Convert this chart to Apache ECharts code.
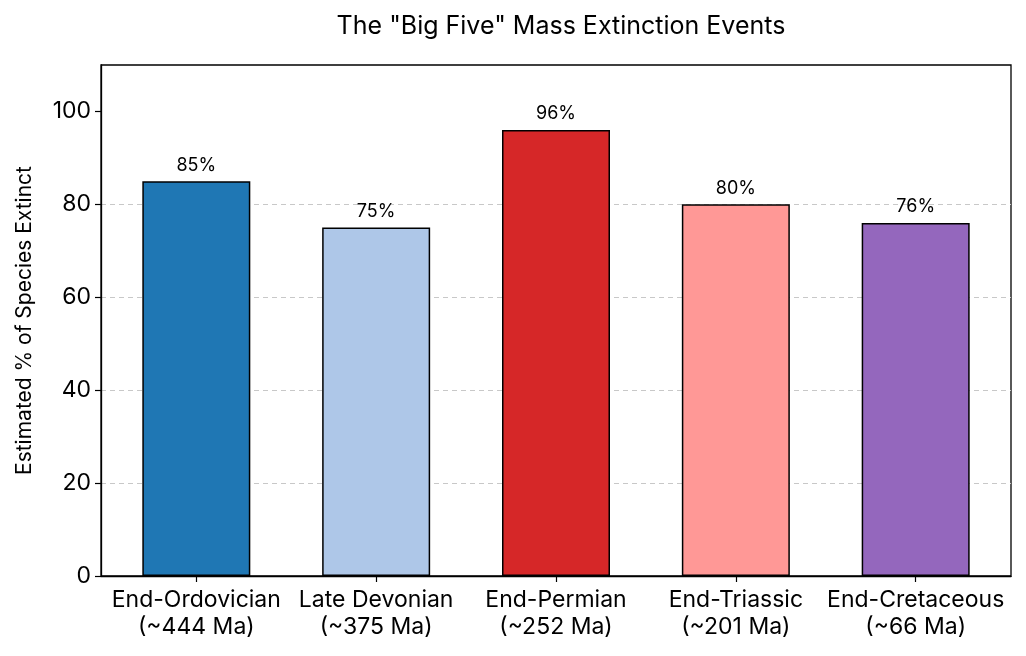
<!DOCTYPE html>
<html>
<head>
<meta charset="utf-8">
<script src="https://cdn.jsdelivr.net/npm/echarts@6/dist/echarts.min.js"></script>
<style>
  html, body { margin: 0; padding: 0; background: #fff; }
  #main { width: 1026px; height: 656px; }
</style>
</head>
<body>
<div id="main"></div>
<script>
var categories = ['End-Ordovician\n(~444 Ma)', 'Late Devonian\n(~375 Ma)', 'End-Permian\n(~252 Ma)', 'End-Triassic\n(~201 Ma)', 'End-Cretaceous\n(~66 Ma)'];
var extinctPct = [85, 75, 96, 80, 76];
var barColors = ['#1f77b4', '#aec7e8', '#d62728', '#ff9896', '#9467bd'];
var yTicks = [0, 20, 40, 60, 80, 100];
var xPositions = [0, 1, 2, 3, 4];

var myChart = echarts.init(document.getElementById('main'));
var fontName = 'Inter';

myChart.setOption({
    animation: false,
    title: {
        text: 'The "Big Five" Mass Extinction Events',
        left: 556,
        textAlign: 'center',
        top: 9,
        textStyle: { fontFamily: fontName, fontSize: 25, fontWeight: 'normal', color: '#000' }
    },
    grid: {
        left: 101, right: 15, top: 65, bottom: 80,
        show: true, borderColor: '#000', borderWidth: 1.3, backgroundColor: 'transparent'
    },
    xAxis: {
        type: 'value',
        min: -0.53, max: 4.53,
        axisLine: { show: true, onZero: false, lineStyle: { color: '#000', width: 1.3 } },
        axisTick: { show: true, customValues: xPositions, length: 6, lineStyle: { color: '#000', width: 1.2 } },
        axisLabel: {
            customValues: xPositions,
            fontFamily: fontName, fontSize: 23, color: '#000', margin: 11, lineHeight: 27,
            formatter: function (v) { return categories[Math.round(v)]; }
        },
        splitLine: { show: false }
    },
    yAxis: {
        type: 'value',
        min: 0, max: 110, interval: 20,
        name: 'Estimated % of Species Extinct',
        nameLocation: 'middle',
        nameGap: 66,
        nameTextStyle: { fontFamily: fontName, fontSize: 21, color: '#000' },
        axisLine: { show: true, onZero: false, lineStyle: { color: '#000', width: 1.3 } },
        axisTick: { show: true, customValues: yTicks, length: 6, lineStyle: { color: '#000', width: 1.2 } },
        axisLabel: {
            customValues: yTicks,
            fontFamily: fontName, fontSize: 23, color: '#000', margin: 10
        },
        splitLine: { show: true, showMaxLine: false, showMinLine: false, lineStyle: { color: '#c8c8c8', type: [5, 4], width: 1 } }
    },
    series: [{
        type: 'bar',
        barWidth: 108,
        data: extinctPct.map(function (v, i) {
            return { value: [xPositions[i], v], itemStyle: { color: barColors[i] } };
        }),
        itemStyle: { borderColor: '#000', borderWidth: 1.5 },
        label: {
            show: true, position: 'top', distance: 7,
            formatter: function (p) { return p.value[1] + '%'; },
            fontFamily: fontName, fontSize: 18, color: '#000'
        }
    }]
});
</script>
</body>
</html>
